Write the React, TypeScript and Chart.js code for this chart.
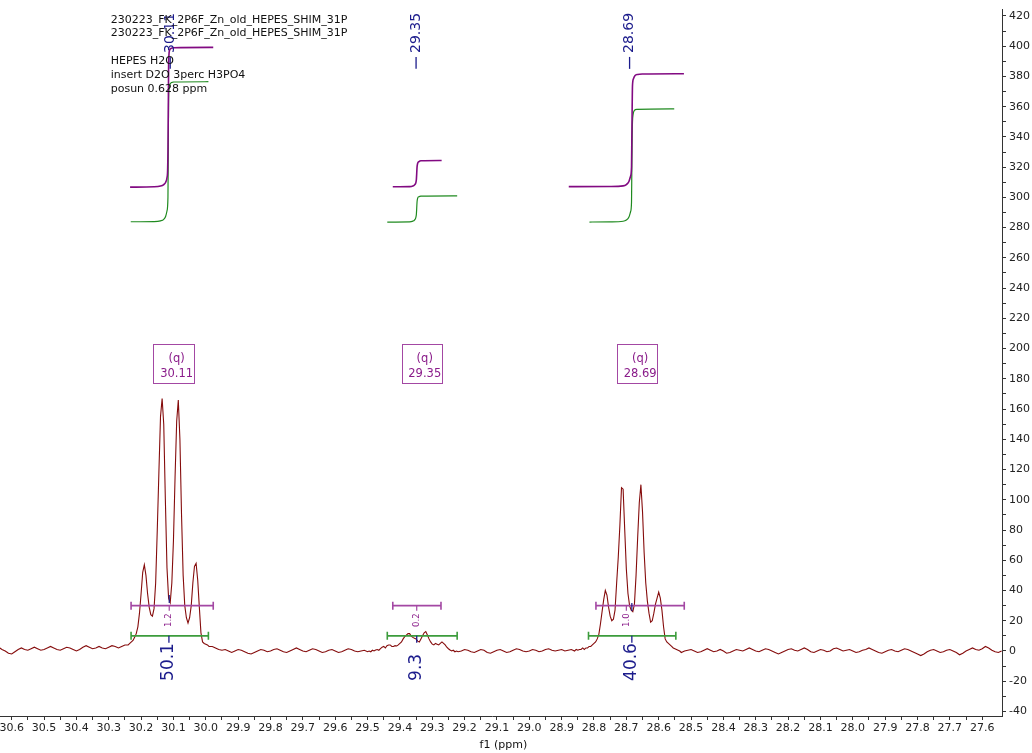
import React, { useEffect, useRef } from 'react';
import { Chart, registerables } from 'chart.js';

Chart.register(...registerables);

// ---------------- spectrum (31P, f1 ppm vs intensity) ----------------
// each segment: start ppm, ppm step, intensities (descending ppm)
const BASE_A = [1, 2, 1.5, 0.5, 1, 2.5, 1, 0, -1.5, -2, -0.5, 1, 2, 1, 0.5, 1.5, 2.5, 1.5, 0.5, 1, 2, 3, 2, 1, 0.5, 1.5, 2.5, 2, 1, 0, 1, 2.5, 3.5, 2.5, 1.5, 2, 3, 2, 1.5, 2.5, 3.5, 3, 2, 3, 4];
const QUARTET_1 = [4, 4, 5, 6, 7, 9, 11.5, 16, 25, 38, 52, 57, 50, 38, 29, 24, 23, 28, 45, 80, 118, 155, 167, 150, 100, 55, 35, 32, 45, 73, 115, 152, 166, 140, 90, 50, 30, 22, 18.5, 22, 30, 45, 56, 58, 47, 29, 12, 6, 5, 4.5, 4, 3];
const BASE_B = [3, 2, 1, 0.5, 1, 0, -1, 0, 1, 0.5, -0.5, -1.5, -2, -1, 0, 1, 0.5, -0.5, 0, 1, 1.5, 0.5, -0.5, -1, 0, 1, 2, 1, 0, -0.5, 0.5, 1.5, 1, 0, -1, -0.5, 0.5, 1, 0, -1, -0.5, 0.5, 1.5, 1, 0, -0.5, 0, 0.5];
const QUARTET_2 = [-0.5, 0, -0.5, 0.5, 0, 0.7, 1, 0.5, 1.5, 2.5, 3, 2, 3.5, 4, 4, 3, 3, 3.5, 3.3, 4, 5, 6, 8, 9.5, 10.5, 11.5, 11.5, 9.8, 9, 8.4, 8, 6.5, 6, 8, 10, 12, 12.8, 10.6, 8, 6, 4.5, 4, 5, 4.5, 4, 5, 6, 5, 4, 2.5, 1.5, 0.7, 0, 0.5, -0.5, 0, -0.5];
const BASE_C = [0, 1, 0.5, -0.5, -1, 0, 1, 0.5, -1, -1.5, -0.5, 0.5, 1, 0, -1, -0.5, 0.5, 1.5, 1, 0, -0.5, 0, 1, 0.5, -0.5, 0, 1, 1.5, 0.5, 0, 0.5, 1, 0, 0.5, 1];
const QUARTET_3 = [0, 1, 0.5, 1, 1, 2, 1, 2, 2, 3, 3, 4, 5, 6, 8, 11, 18, 26, 34, 40, 37, 29, 23, 20, 21, 27, 45, 62, 83, 108, 107, 80, 54, 38, 30, 27, 26, 31, 50, 75, 98, 110, 92, 65, 45, 33, 25, 19, 20, 25, 31, 35, 39, 35, 27, 16, 8, 6, 5, 4, 3, 2, 1.5, 1, 0.5, 0, -1, -0.5, 0];
const BASE_D = [0.5, 1, 0, -1, -0.5, 0.5, 1.5, 0.5, -0.5, 0, 1, 0, -1.5, -1, 0, 1, 0.5, 0, 1, 2, 1, 0, -0.5, 0.5, 1.5, 1, 0, -1, -2, -1, 0, 1, 1.5, 0.5, 0, 1, 2, 1, -0.5, -1, 0, 1, 0.5, -0.5, 0, 1.5, 2, 1, 0, 0.5, 1, 0, -1, -0.5, 0.5, 1, 2, 1, 0, -1, -1.5, -0.5, 0.5, 1, 0, -0.5, 0.5, 1.5, 1, 0, -1, -2, -3, -2, -0.5, 0.5, 1, 0, -1, -0.5, 0.5, 1, 0, -1, -2.5, -1.5, 0, 1, 2, 1, 0.5, 1.5, 3, 2, 0.5, -0.5, -1, 0];
const SEGMENT_STARTS = [30.69, 30.245, 29.98, 29.5, 29.21, 28.86, 28.51];
const SEGMENT_STEPS = [0.01, 0.005, 0.01, 0.005, 0.01, 0.005, 0.01];
const SEGMENT_VALUES = [BASE_A, QUARTET_1, BASE_B, QUARTET_2, BASE_C, QUARTET_3, BASE_D];

// ---------------- integral curves [ppm, value] ----------------
const INT_PURPLE_1 = [[30.234, 306.8], [30.16, 307], [30.14, 307.5], [30.13, 308.5], [30.124, 310], [30.12, 313], [30.118, 318], [30.117, 330], [30.116, 355], [30.115, 385], [30.114, 394], [30.112, 397.3], [30.107, 398.6], [30.1, 399], [29.977, 399.2]];
const INT_GREEN_1 = [[30.232, 283.9], [30.16, 284], [30.14, 284.5], [30.13, 285.5], [30.124, 287.5], [30.12, 291], [30.117, 300], [30.116, 330], [30.115, 365], [30.113, 372.5], [30.11, 375.3], [30.1, 376.3], [29.992, 376.5]];
const INT_PURPLE_2 = [[29.422, 307], [29.37, 307.1], [29.36, 307.5], [29.355, 308.2], [29.351, 309.5], [29.349, 312], [29.348, 316], [29.347, 320], [29.345, 322.6], [29.341, 323.7], [29.335, 324.2], [29.271, 324.4]];
const INT_GREEN_2 = [[29.439, 283.7], [29.37, 283.8], [29.36, 284.3], [29.355, 285], [29.351, 286.5], [29.349, 289], [29.348, 293], [29.347, 297], [29.345, 299.5], [29.341, 300.5], [29.335, 300.8], [29.223, 301]];
const INT_PURPLE_3 = [[28.878, 307.1], [28.75, 307.2], [28.71, 307.6], [28.7, 308.5], [28.692, 310.5], [28.687, 314], [28.684, 320], [28.683, 340], [28.682, 360], [28.681, 374], [28.678, 378.5], [28.673, 380.6], [28.665, 381.3], [28.65, 381.6], [28.522, 381.8]];
const INT_GREEN_3 = [[28.814, 283.7], [28.75, 283.8], [28.71, 284.2], [28.7, 285], [28.692, 287], [28.687, 290.5], [28.684, 297], [28.683, 320], [28.682, 340], [28.681, 350], [28.679, 355], [28.675, 357.5], [28.668, 358.2], [28.552, 358.5]];

// ---------------- annotations ----------------
const NOTE_LINES = ['230223_FK_2P6F_Zn_old_HEPES_SHIM_31P', '230223_FK_2P6F_Zn_old_HEPES_SHIM_31P', 'HEPES H2O', 'insert D2O 3perc H3PO4', 'posun 0.628 ppm'];
const NOTE_Y = [417.3, 408.7, 390.2, 380.9, 371.7];
const NOTE_PPM = 30.294;

const PEAK_SHIFTS = [30.11, 29.35, 28.69];

const MULT_KIND = ['(q)', '(q)', '(q)'];
const MULT_SHIFTS = [30.11, 29.35, 28.69];
const MULT_BOX_LEFT = [30.163, 29.394, 28.729];
const MULT_BOX_RIGHT = [30.036, 29.271, 28.604];
const MULT_RANGE_LEFT = [30.231, 29.422, 28.794];
const MULT_RANGE_RIGHT = [29.977, 29.273, 28.521];
const MULT_VALUES = [1.2, 0.2, 1.0];
const MULT_LABEL_PPM = [30.113, 29.348, 28.7];

const INTEGRAL_VALUES = [50.1, 9.3, 40.6];
const INTEGRAL_LEFT = [30.231, 29.439, 28.817];
const INTEGRAL_RIGHT = [29.992, 29.223, 28.547];
const INTEGRAL_LABEL_PPM = [30.114, 29.348, 28.683];

const VALLEY_MARK_PPM = [30.113, 28.683];
const VALLEY_MARK_LOW = [31.7, 26.5];
const VALLEY_MARK_HIGH = [37, 31.7];

const X_MIN = 27.5388;
const X_MAX = 30.6918;
const Y_MIN = -43;
const Y_MAX = 424.2;

const FONT = "'DejaVu Sans', Verdana, sans-serif";
const SPECTRUM_COLOR = '#850c0c';
const PURPLE_INT = '#820a82';
const GREEN_INT = '#1f8a1f';
const MULT_LINE = '#a347a3';
const MULT_TEXT = '#8a1c8a';
const GREEN_BAR = '#3c9c3c';
const NAVY = '#1c1c8c';

function buildSpectrum() {
  const pts: { x: number; y: number }[] = [];
  SEGMENT_VALUES.forEach((vals, s) => {
    vals.forEach((v, i) => {
      pts.push({ x: +(SEGMENT_STARTS[s] - i * SEGMENT_STEPS[s]).toFixed(4), y: v });
    });
  });
  return pts;
}

const toPts = (arr: number[][]) => arr.map(([x, y]) => ({ x, y }));

function vText(ctx: CanvasRenderingContext2D, text: string, x: number, y: number, font: string, color: string) {
  ctx.save();
  ctx.translate(x, y);
  ctx.rotate(-Math.PI / 2);
  ctx.font = font;
  ctx.fillStyle = color;
  ctx.textAlign = 'left';
  ctx.textBaseline = 'middle';
  ctx.fillText(text, 0, 0);
  ctx.restore();
}

function hBar(ctx: CanvasRenderingContext2D, x1: number, x2: number, y: number, color: string) {
  ctx.strokeStyle = color;
  ctx.lineWidth = 1.6;
  ctx.beginPath();
  ctx.moveTo(x1, y);
  ctx.lineTo(x2, y);
  ctx.moveTo(x1, y - 4);
  ctx.lineTo(x1, y + 4);
  ctx.moveTo(x2, y - 4);
  ctx.lineTo(x2, y + 4);
  ctx.stroke();
}

const annotationPlugin = {
  id: 'nmrAnnotations',
  afterDatasetsDraw(chart: any) {
    const ctx: CanvasRenderingContext2D = chart.ctx;
    const xs = chart.scales.x;
    const ys = chart.scales.y;
    const px = (v: number) => xs.getPixelForValue(v);
    const py = (v: number) => ys.getPixelForValue(v);
    ctx.save();

    // peak labels on top
    PEAK_SHIFTS.forEach((p) => {
      const x = px(p);
      ctx.strokeStyle = NAVY;
      ctx.lineWidth = 1.3;
      ctx.beginPath();
      ctx.moveTo(x, py(385));
      ctx.lineTo(x, py(392.9));
      ctx.stroke();
      vText(ctx, p.toFixed(2), x, py(395.5), `14px ${FONT}`, NAVY);
    });

    // notes
    ctx.font = `11px ${FONT}`;
    ctx.fillStyle = '#111';
    ctx.textAlign = 'left';
    ctx.textBaseline = 'middle';
    NOTE_LINES.forEach((t, i) => ctx.fillText(t, px(NOTE_PPM), py(NOTE_Y[i])));

    // multiplet boxes
    MULT_SHIFTS.forEach((s, i) => {
      const l = px(MULT_BOX_LEFT[i]);
      const r = px(MULT_BOX_RIGHT[i]);
      const t = py(203);
      const b = py(177);
      ctx.strokeStyle = MULT_LINE;
      ctx.lineWidth = 1;
      ctx.strokeRect(Math.round(l) + 0.5, Math.round(t) + 0.5, Math.round(r - l), Math.round(b - t));
      ctx.font = `11.5px ${FONT}`;
      ctx.fillStyle = MULT_TEXT;
      ctx.textAlign = 'center';
      ctx.textBaseline = 'middle';
      const cx = (l + r) / 2 + 3;
      ctx.fillText(MULT_KIND[i], cx, py(193));
      ctx.fillText(s.toFixed(2), cx, py(183.2));
    });

    // multiplet range bars
    MULT_VALUES.forEach((v, i) => {
      const y = py(30);
      hBar(ctx, px(MULT_RANGE_LEFT[i]), px(MULT_RANGE_RIGHT[i]), y, MULT_LINE);
      const x = px(MULT_LABEL_PPM[i]);
      ctx.strokeStyle = MULT_LINE;
      ctx.lineWidth = 1.2;
      ctx.beginPath();
      ctx.moveTo(x, y);
      ctx.lineTo(x, y + 5);
      ctx.stroke();
      vText(ctx, v.toFixed(1), x, py(15.9), `8.5px ${FONT}`, MULT_TEXT);
    });

    // valley marks
    VALLEY_MARK_PPM.forEach((p, i) => {
      ctx.strokeStyle = NAVY;
      ctx.lineWidth = 1.2;
      ctx.beginPath();
      ctx.moveTo(px(p), py(VALLEY_MARK_LOW[i]));
      ctx.lineTo(px(p), py(VALLEY_MARK_HIGH[i]));
      ctx.stroke();
    });

    // integral bars and values
    INTEGRAL_VALUES.forEach((v, i) => {
      const y = py(10);
      hBar(ctx, px(INTEGRAL_LEFT[i]), px(INTEGRAL_RIGHT[i]), y, GREEN_BAR);
      const x = px(INTEGRAL_LABEL_PPM[i]);
      ctx.strokeStyle = NAVY;
      ctx.lineWidth = 1.3;
      ctx.beginPath();
      ctx.moveTo(x, y);
      ctx.lineTo(x, y + 7);
      ctx.stroke();
      vText(ctx, v.toFixed(1), x, py(-19.8), `17px ${FONT}`, NAVY);
    });

    // axis title
    ctx.font = `11px ${FONT}`;
    ctx.fillStyle = '#111';
    ctx.textAlign = 'center';
    ctx.textBaseline = 'middle';
    ctx.fillText('f1 (ppm)', px(29.08), xs.bottom - 8);

    ctx.restore();
  },
};

export default function App() {
  const canvasRef = useRef<HTMLCanvasElement | null>(null);

  useEffect(() => {
    const canvas = canvasRef.current;
    if (!canvas) return;
    const lineDs = (data: any[], color: string, width: number, smooth: boolean) => ({
      data,
      borderColor: color,
      borderWidth: width,
      pointRadius: 0,
      fill: false,
      tension: 0,
      cubicInterpolationMode: smooth ? ('monotone' as const) : ('default' as const),
    });
    const chart = new Chart(canvas, {
      type: 'line',
      data: {
        datasets: [
          lineDs(buildSpectrum(), SPECTRUM_COLOR, 1.1, false),
          lineDs(toPts(INT_PURPLE_1), PURPLE_INT, 1.6, true),
          lineDs(toPts(INT_GREEN_1), GREEN_INT, 1.2, true),
          lineDs(toPts(INT_PURPLE_2), PURPLE_INT, 1.6, true),
          lineDs(toPts(INT_GREEN_2), GREEN_INT, 1.2, true),
          lineDs(toPts(INT_PURPLE_3), PURPLE_INT, 1.6, true),
          lineDs(toPts(INT_GREEN_3), GREEN_INT, 1.2, true),
        ],
      },
      options: {
        animation: false,
        responsive: false,
        maintainAspectRatio: false,
        devicePixelRatio: 1,
        layout: { padding: 0 },
        plugins: { legend: { display: false }, tooltip: { enabled: false } },
        scales: {
          x: {
            type: 'linear',
            reverse: true,
            min: X_MIN,
            max: X_MAX,
            position: 'bottom',
            afterFit: (s: any) => { s.height = 37; },
            grid: {
              drawOnChartArea: false,
              tickLength: 4,
              tickColor: (c: any) => (c.tick && c.tick.value < 27.58 ? 'rgba(0,0,0,0)' : '#333'),
            },
            border: { display: true, color: '#333', width: 1 },
            ticks: {
              stepSize: 0.05,
              includeBounds: false,
              autoSkip: false,
              maxRotation: 0,
              padding: 2,
              color: '#222',
              font: { family: FONT, size: 11 },
              callback: (value: any) => {
                const v = Math.round(Number(value) * 100);
                return v % 10 === 0 ? (v / 100).toFixed(1) : '';
              },
            },
          },
          y: {
            type: 'linear',
            position: 'right',
            min: Y_MIN,
            max: Y_MAX,
            afterFit: (s: any) => { s.width = 30; },
            grid: { drawOnChartArea: false, tickLength: 4, tickColor: '#333' },
            border: { display: true, color: '#333', width: 1 },
            ticks: {
              stepSize: 10,
              includeBounds: false,
              autoSkip: false,
              padding: 3,
              color: '#222',
              font: { family: FONT, size: 11 },
              callback: (value: any) => {
                const v = Math.round(Number(value));
                return v % 20 === 0 ? String(v) : '';
              },
            },
          },
        },
      },
      plugins: [annotationPlugin],
    } as any);
    return () => chart.destroy();
  }, []);

  return (
    <div style={{ position: 'fixed', left: 0, top: 0, width: 1032, height: 753, overflow: 'hidden', background: '#fff' }}>
      <canvas
        ref={canvasRef}
        width={1050}
        height={753}
        style={{ position: 'absolute', left: -18, top: 0, width: 1050, height: 753 }}
      />
    </div>
  );
}
